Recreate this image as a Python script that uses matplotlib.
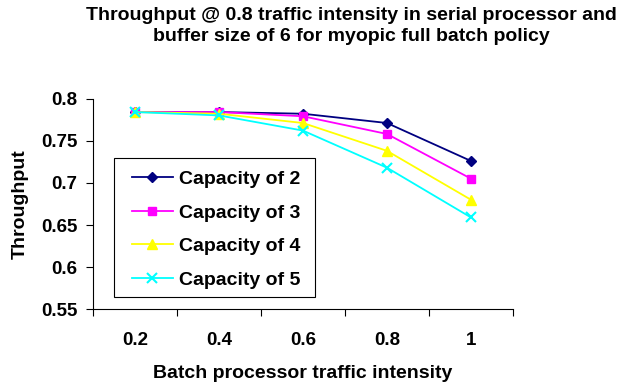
import matplotlib
matplotlib.use('Agg')
import matplotlib.pyplot as plt
from matplotlib.patches import Rectangle

plt.rcParams['font.family'] = ['Liberation Sans', 'DejaVu Sans']

categories = ['0.2', '0.4', '0.6', '0.8', '1']
cap2 = [0.784, 0.784, 0.782, 0.771, 0.726]
cap3 = [0.784, 0.784, 0.779, 0.758, 0.705]
cap4 = [0.784, 0.782, 0.771, 0.738, 0.680]
cap5 = [0.784, 0.780, 0.762, 0.718, 0.659]
series_names = ['Capacity of 2', 'Capacity of 3', 'Capacity of 4', 'Capacity of 5']
y_ticks = [0.55, 0.6, 0.65, 0.7, 0.75, 0.8]
y_tick_labels = ['0.55', '0.6', '0.65', '0.7', '0.75', '0.8']

fig = plt.figure(figsize=(6.24, 3.85), dpi=100)
ax = fig.add_axes([0.149, 0.1966, 0.673, 0.5474])

xs = list(range(len(categories)))
styles = [
    dict(color='#000080', marker='D', markersize=5.5),
    dict(color='#FF00FF', marker='s', markersize=6),
    dict(color='#FFFF00', marker='^', markersize=7),
    dict(color='#00FFFF', marker='x', markersize=7, markeredgewidth=1.5),
]
for vals, name, st in zip([cap2, cap3, cap4, cap5], series_names, styles):
    ax.plot(xs, vals, linewidth=1.3, label=name, clip_on=False, **st)

ax.set_xlim(-0.5, len(categories) - 0.5)
ax.set_ylim(0.55, 0.8)
ax.set_yticks(y_ticks)
ax.set_yticklabels(y_tick_labels, fontsize=13.5, fontweight='bold')

# ticks at category boundaries, labels at centres
ax.set_xticks([i - 0.5 for i in range(len(categories) + 1)])
ax.set_xticklabels([])
ax.set_xticks(xs, minor=True)
ax.set_xticklabels(categories, minor=True, fontsize=13.5, fontweight='bold')
ax.tick_params(axis='x', which='major', direction='out', length=5, width=0.8)
ax.tick_params(axis='x', which='minor', length=0, pad=16)
ax.tick_params(axis='y', direction='out', length=5, width=0.8, pad=6)

ax.spines['top'].set_visible(False)
ax.spines['right'].set_visible(False)
for s in ['left', 'bottom']:
    ax.spines[s].set_linewidth(0.8)

ax.set_xlabel('Batch processor traffic intensity', fontsize=14,
              fontweight='bold', labelpad=12)
ax.set_ylabel('Throughput', fontsize=14, fontweight='bold', labelpad=9)

fig.text(0.5625, 0.961, 'Throughput @ 0.8 traffic intensity in serial processor and',
         ha='center', va='center', fontsize=14, fontweight='bold')
fig.text(0.5625, 0.905, 'buffer size of 6 for myopic full batch policy',
         ha='center', va='center', fontsize=14, fontweight='bold')

# legend box drawn separately so the entries sit with Excel-like padding
ax.add_patch(Rectangle((0.05, 0.058), 0.479, 0.66, transform=ax.transAxes,
                       facecolor='white', edgecolor='black', linewidth=0.8,
                       zorder=4))
leg = ax.legend(loc='center left', bbox_to_anchor=(0.093, 0.378),
                frameon=False, prop={'size': 14, 'weight': 'bold'},
                handlelength=2.1, handletextpad=0.3, borderaxespad=0,
                borderpad=0, labelspacing=0.82)
leg.set_zorder(5)

fig.savefig('out.png', dpi=100)
